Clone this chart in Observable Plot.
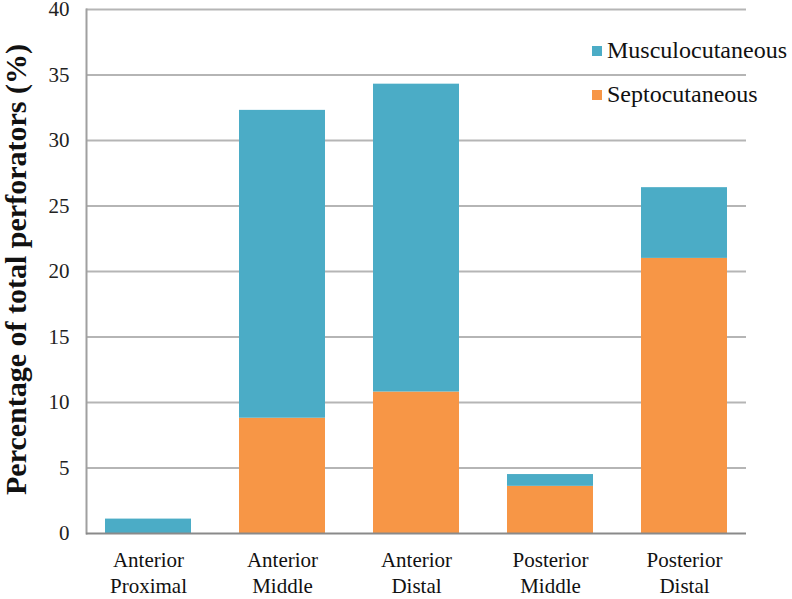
<!DOCTYPE html>
<html><head><meta charset="utf-8">
<script src="https://cdn.jsdelivr.net/npm/d3@7"></script>
<script src="https://cdn.jsdelivr.net/npm/@observablehq/plot@0.6"></script>
<style>
body{margin:0;background:#fff}
#wrap{position:relative;width:792px;height:599px;font-family:'Liberation Serif','Times New Roman',serif}
#wrap svg{overflow:visible}
.leg{position:absolute;left:592px;display:flex;align-items:center;font-size:24px;color:#111;white-space:nowrap}
.sw{width:10px;height:10px;margin-right:5px}
</style>
</head><body><div id="wrap"></div>
<script>
const categories = ["Anterior Proximal","Anterior Middle","Anterior Distal","Posterior Middle","Posterior Distal"];
const tickLabels = ["Anterior\nProximal","Anterior\nMiddle","Anterior\nDistal","Posterior\nMiddle","Posterior\nDistal"];
const series = ["Musculocutaneous","Septocutaneous"];
const musculo = [1.1, 23.5, 23.5, 0.9, 5.4];
const septo = [0, 8.8, 10.8, 3.6, 21.0];
const yTicks = [0,5,10,15,20,25,30,35,40];
const colors = ["#4BACC6","#F79646"];

const data = categories.flatMap((c,i)=>[
  {cat:c, type:"Septocutaneous", value:septo[i]},
  {cat:c, type:"Musculocutaneous", value:musculo[i]}
]);

const chart = Plot.plot({
  width:792, height:599,
  marginLeft:86, marginRight:46, marginTop:9, marginBottom:66,
  style:{fontFamily:"'Liberation Serif','Times New Roman',serif", fontSize:"20px", color:"#111", background:"#fff", overflow:"visible"},
  x:{domain:categories, paddingInner:0.36, paddingOuter:0.14, label:null},
  y:{domain:[0,40], label:null},
  color:{domain:series, range:colors},
  marks:[
    Plot.gridY(yTicks.slice(1), {stroke:"#b5b5b5", strokeOpacity:1, strokeWidth:2}),
    Plot.barY(data, Plot.stackY({x:"cat", y:"value", fill:"type", order:["Septocutaneous","Musculocutaneous"]})),
    Plot.frame({anchor:"left", stroke:"#a0a0a0", strokeWidth:2}),
    Plot.ruleY([0], {stroke:"#8a8a8a", strokeWidth:2}),
    Plot.axisY(yTicks, {tickSize:0, tickPadding:17, fontSize:21, fill:"#222", label:null}),
    Plot.axisX({tickSize:0, tickPadding:14, fontSize:21, fill:"#111", lineHeight:1.28, tickFormat:(d)=>tickLabels[categories.indexOf(d)], label:null}),
    Plot.text(["Percentage of total perforators (%)"], {frameAnchor:"left", textAnchor:"middle", rotate:-90, dx:-70, dy:-2, fontWeight:"bold", fontSize:30, fill:"#111"})
  ]
});
const wrap = document.getElementById("wrap");
wrap.appendChild(chart);
const legTops = [37, 81];
series.forEach((s,i)=>{
  const d = document.createElement("div");
  d.className = "leg";
  d.style.top = legTops[i] + "px";
  d.innerHTML = `<div class="sw" style="background:${colors[i]}"></div><span>${s}</span>`;
  wrap.appendChild(d);
});
</script>
</body></html>
